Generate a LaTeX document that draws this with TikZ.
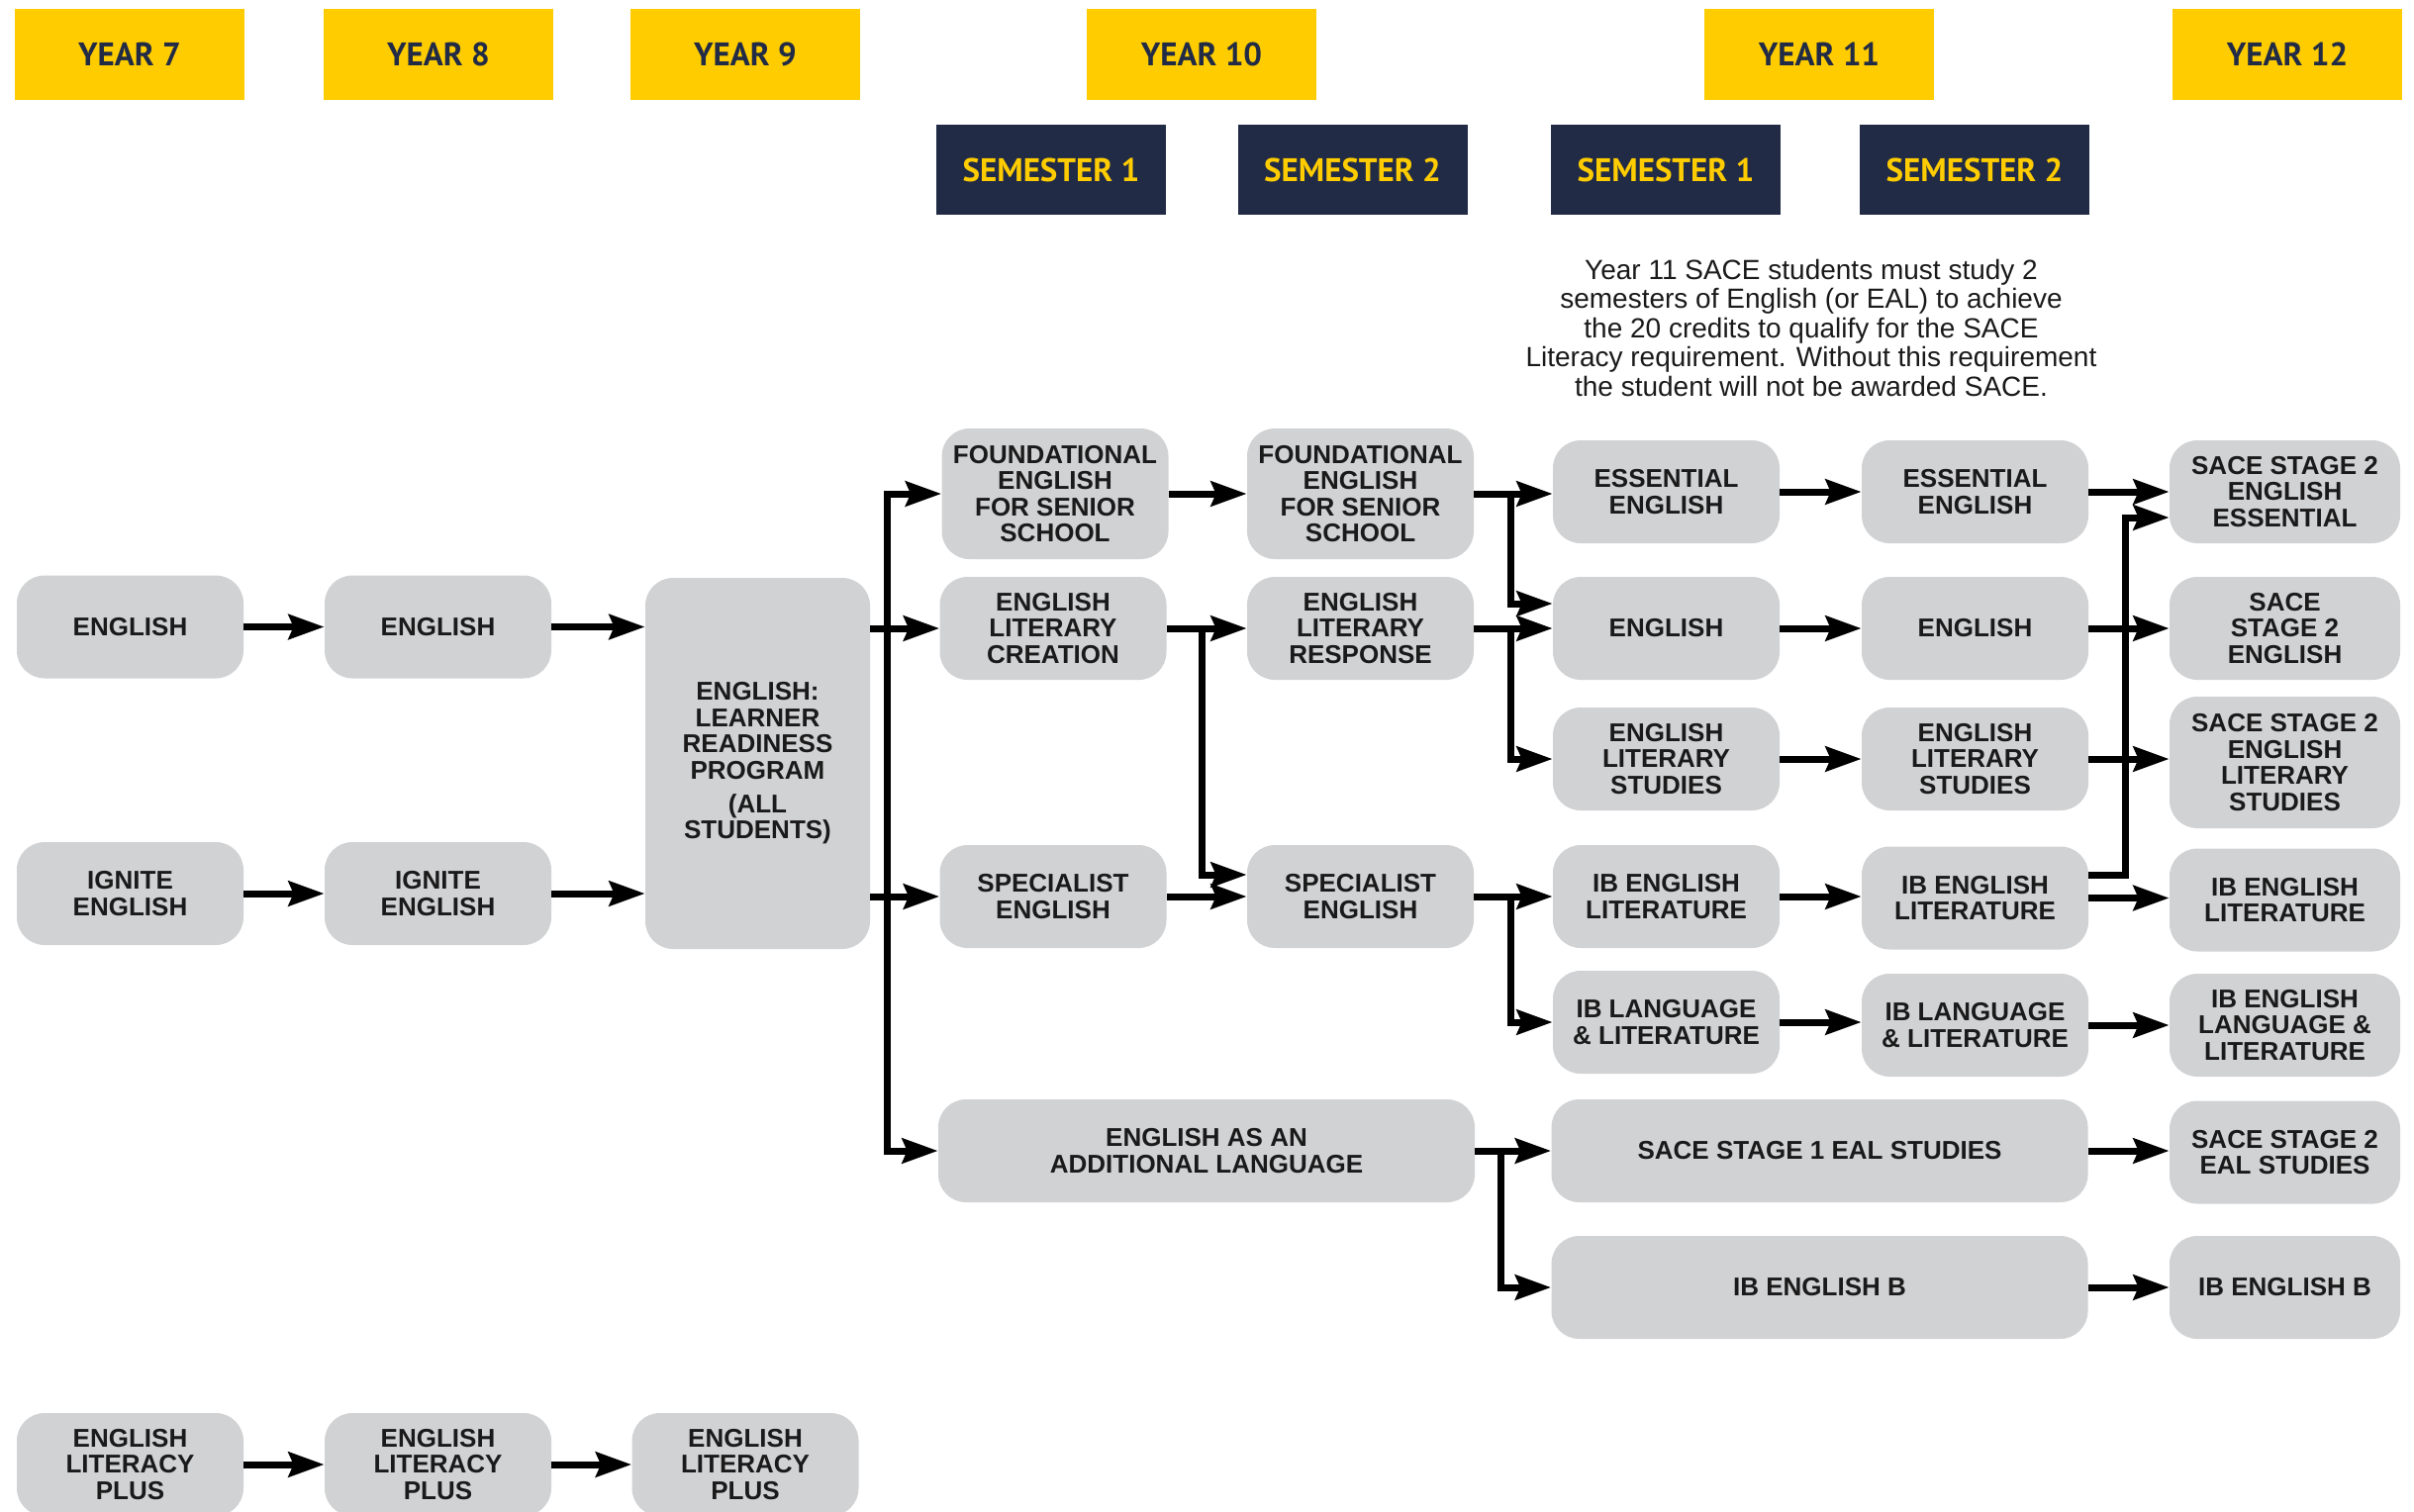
\documentclass[tikz,border=0pt]{standalone}
\usepackage{fontspec}
\setmainfont{Liberation Sans}
\newfontfamily\headfont{PT Sans}
\usetikzlibrary{arrows.meta,positioning}

\definecolor{yearyellow}{HTML}{FFCC00}
\definecolor{semnavy}{HTML}{212B45}
\definecolor{boxgrey}{HTML}{D1D2D4}
\definecolor{inkblack}{HTML}{1A1A1A}

\begin{document}
\begin{tikzpicture}[
        x=0.5pt,
        y=-0.5pt,
        >={Stealth[length=18pt,width=12.5pt,inset=2.5pt]},
        year/.style={
            fill=yearyellow,
            text=semnavy,
            minimum width=116pt,
            minimum height=46pt,
            inner sep=0pt,
            font=\headfont\bfseries\fontsize{16.5}{18}\selectfont
        },
        sem/.style={
            year,
            fill=semnavy,
            text=yearyellow,
            minimum height=45.5pt
        },
        course/.style={
            fill=boxgrey,
            text=inkblack,
            rounded corners=14pt,
            align=center,
            inner sep=0pt,
            minimum width=114.5pt,
            minimum height=52pt,
            font=\bfseries\fontsize{13}{13.2}\selectfont
        },
        tall/.style={course, minimum height=66pt},
        wide/.style={course, minimum width=271pt},
        final/.style={course, minimum width=116.5pt},
        pil/.style={->, line width=3.5pt},
        fork/.style={<->, line width=3.5pt}
    ]
    \useasboundingbox (0,0) rectangle (2439,1527);

    % headers
    \node[year] (y7) at (131,55) {YEAR 7};
    \node[year] (y8) at (443,55) {YEAR 8};
    \node[year] (y9) at (753,55) {YEAR 9};
    \node[year] (y10) at (1214,55) {YEAR 10};
    \node[year] (y11) at (1838,55) {YEAR 11};
    \node[year] (y12) at (2311,55) {YEAR 12};
    \node[sem] (s10a) at (1062,171.5) {SEMESTER 1};
    \node[sem] (s10b) at (1366.5,171.5) {SEMESTER 2};
    \node[sem] (s11a) at (1683,171.5) {SEMESTER 1};
    \node[sem] (s11b) at (1995,171.5) {SEMESTER 2};

    \node[align=center, text=inkblack, font=\fontsize{14}{14.75}\selectfont] (note) at (1830,331)
        {Year 11 SACE students must study 2\\ semesters of English (or EAL) to achieve\\ the 20 credits to qualify for the SACE\\ Literacy requirement. Without this requirement\\ the student will not be awarded SACE.};

    % year 7 - 9
    \node[course] (eng7) at (131.5,633.5) {ENGLISH};
    \node[course] (ign7) at (131.5,903) {IGNITE\\ENGLISH};
    \node[course] (lit7) at (131.5,1480) {ENGLISH\\LITERACY\\PLUS};
    \node[course] (eng8) at (442.5,633.5) {ENGLISH};
    \node[course] (ign8) at (442.5,903) {IGNITE\\ENGLISH};
    \node[course] (lit8) at (442.5,1480) {ENGLISH\\LITERACY\\PLUS};
    \node[course, minimum width=113.5pt, minimum height=187.5pt] (ready) at (765.5,771.5)
        {ENGLISH:\\LEARNER\\READINESS\\PROGRAM\\[4pt](ALL\\STUDENTS)};
    \node[course] (lit9) at (753,1480) {ENGLISH\\LITERACY\\PLUS};

    % year 10
    \node[tall] (found10a) at (1066,499) {FOUNDATIONAL\\ENGLISH\\FOR SENIOR\\SCHOOL};
    \node[course] (crea10) at (1064,635) {ENGLISH\\LITERARY\\CREATION};
    \node[course] (spec10a) at (1064,906) {SPECIALIST\\ENGLISH};
    \node[wide] (eal10) at (1219,1163) {ENGLISH AS AN\\ADDITIONAL LANGUAGE};
    \node[tall] (found10b) at (1374.5,499) {FOUNDATIONAL\\ENGLISH\\FOR SENIOR\\SCHOOL};
    \node[course] (resp10) at (1374.5,635) {ENGLISH\\LITERARY\\RESPONSE};
    \node[course] (spec10b) at (1374.5,906) {SPECIALIST\\ENGLISH};

    % year 11
    \node[course] (ess11a) at (1683.5,497) {ESSENTIAL\\ENGLISH};
    \node[course] (eng11a) at (1683.5,635) {ENGLISH};
    \node[course] (els11a) at (1683.5,767) {ENGLISH\\LITERARY\\STUDIES};
    \node[course] (ibl11a) at (1683.5,906) {IB ENGLISH\\LITERATURE};
    \node[course] (ibll11a) at (1683.5,1033) {IB LANGUAGE\\\& LITERATURE};
    \node[wide] (eal11) at (1838.5,1163) {SACE STAGE 1 EAL STUDIES};
    \node[wide] (ibb11) at (1838.5,1301) {IB ENGLISH B};
    \node[course] (ess11b) at (1995.5,497) {ESSENTIAL\\ENGLISH};
    \node[course] (eng11b) at (1995.5,635) {ENGLISH};
    \node[course] (els11b) at (1995.5,767) {ENGLISH\\LITERARY\\STUDIES};
    \node[course] (ibl11b) at (1995.5,907.5) {IB ENGLISH\\LITERATURE};
    \node[course] (ibll11b) at (1995.5,1036) {IB LANGUAGE\\\& LITERATURE};

    % year 12
    \node[final] (ess12) at (2308.5,497) {SACE STAGE 2\\ENGLISH\\ESSENTIAL};
    \node[final] (eng12) at (2308.5,635) {SACE\\STAGE 2\\ENGLISH};
    \node[final, minimum height=66.5pt] (els12) at (2308.5,770.5) {SACE STAGE 2\\ENGLISH\\LITERARY\\STUDIES};
    \node[final] (ibl12) at (2308.5,909.5) {IB ENGLISH\\LITERATURE};
    \node[final] (ibll12) at (2308.5,1036) {IB ENGLISH\\LANGUAGE \&\\LITERATURE};
    \node[final] (eal12) at (2308.5,1164.5) {SACE STAGE 2\\EAL STUDIES};
    \node[final] (ibb12) at (2308.5,1301) {IB ENGLISH B};

    \coordinate (trunk) at (896,800);
    \coordinate (j10) at (1214,760);
    \coordinate (j11a) at (1526,550);
    \coordinate (j11b) at (1526,700);
    \coordinate (j11c) at (1526,970);
    \coordinate (jeal) at (1516,1230);
    \coordinate (j12) at (2147,700);

    \draw[pil] (eng7.east) -- (eng7.east -| eng8.west);
    \draw[pil] (eng8.east) -- (eng8.east -| ready.west);
    \draw[pil] (ign7.east) -- (ign7.east -| ign8.west);
    \draw[pil] (ign8.east) -- (ign8.east -| ready.west);
    \draw[pil] (lit7.east) -- (lit7.east -| lit8.west);
    \draw[pil] (lit8.east) -- (lit8.east -| lit9.west);

    \draw[pil] (ready.east |- crea10) -- (crea10.west);
    \draw[pil] (ready.east |- spec10a) -- (spec10a.west);
    \draw[fork] (found10a.west) -| (trunk) |- (eal10.west);

    \draw[pil] (found10a.east) -- (found10a.east -| found10b.west);
    \draw[pil] (crea10.east) -- (crea10.east -| resp10.west);
    \draw[pil] (spec10a.east) -- (spec10a.east -| spec10b.west);
    \draw[pil] (crea10.east) -| (j10) |- ([yshift=11pt]spec10b.west);

    \draw[pil] (found10b.east) -- (found10b.east -| ess11a.west);
    \draw[pil] (found10b.east) -| (j11a) |- ([yshift=12.5pt]eng11a.west);
    \draw[pil] (resp10.east) -- (resp10.east -| eng11a.west);
    \draw[pil] (resp10.east) -| (j11b) |- (els11a.west);
    \draw[pil] (spec10b.east) -- (spec10b.east -| ibl11a.west);
    \draw[pil] (spec10b.east) -| (j11c) |- (ibll11a.west);
    \draw[pil] (eal10.east) -- (eal10.east -| eal11.west);
    \draw[pil] (eal10.east) -| (jeal) |- (ibb11.west);

    \draw[pil] (ess11a.east) -- (ess11a.east -| ess11b.west);
    \draw[pil] (eng11a.east) -- (eng11a.east -| eng11b.west);
    \draw[pil] (els11a.east) -- (els11a.east -| els11b.west);
    \draw[pil] (ibl11a.east) -- (ibl11a.east -| ibl11b.west);
    \draw[pil] (ibll11a.east) -- (ibll11a.east -| ibll11b.west);

    \draw[pil] (ess11b.east) -- (ess11b.east -| ess12.west);
    \draw[pil] (eng11b.east) -- (eng11b.east -| eng12.west);
    \draw[pil] (els11b.east) -- (els11b.east -| els12.west);
    \draw[pil] (ibl11b.east) -- (ibl11b.east -| ibl12.west);
    \draw[pil] ([yshift=11.75pt]ibl11b.east) -| (j12) |- ([yshift=-13pt]ess12.west);
    \draw[pil] (ibll11b.east) -- (ibll11b.east -| ibll12.west);
    \draw[pil] (eal11.east) -- (eal11.east -| eal12.west);
    \draw[pil] (ibb11.east) -- (ibb11.east -| ibb12.west);
\end{tikzpicture}
\end{document}
